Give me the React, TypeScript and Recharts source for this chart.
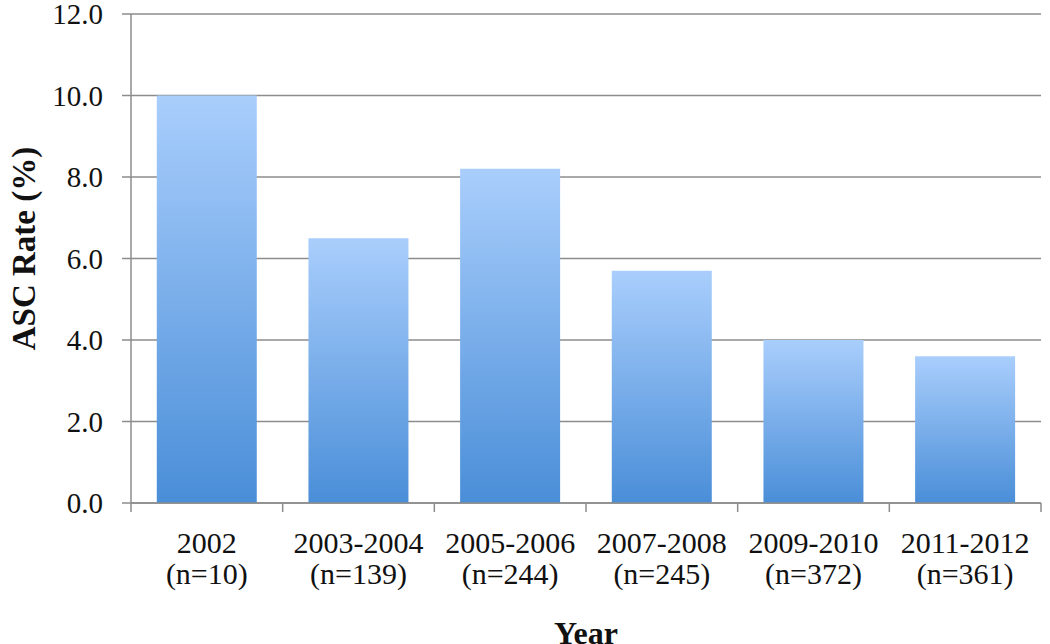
import React from 'react';
import { BarChart, Bar, XAxis, YAxis, CartesianGrid, Label } from 'recharts';

const categories = ['2002', '2003-2004', '2005-2006', '2007-2008', '2009-2010', '2011-2012'];
const sampleSizes = ['(n=10)', '(n=139)', '(n=244)', '(n=245)', '(n=372)', '(n=361)'];
const ascRates = [10.0, 6.5, 8.2, 5.7, 4.0, 3.6];
const yTicks = [0, 2, 4, 6, 8, 10, 12];

const data = categories.map((c, i) => ({ year: c, n: sampleSizes[i], rate: ascRates[i] }));

const FONT = '"Liberation Serif", "Times New Roman", serif';
const AXIS = '#8c8c8c';

const XTick = (props: any) => {
  const { x, y, payload, index } = props;
  const half = payload && payload.offset ? payload.offset : 910 / 12;
  return (
    <g>
      <line x1={x - half} y1={y - 8} x2={x - half} y2={y + 1} stroke={AXIS} strokeWidth={1.5} />
      {index === categories.length - 1 && (
        <line x1={x + half} y1={y - 8} x2={x + half} y2={y + 1} stroke={AXIS} strokeWidth={1.5} />
      )}
      <text x={x} y={y} textAnchor="middle" fontFamily={FONT} fontSize={30} fill="#111">
        <tspan x={x} dy={42}>{categories[index]}</tspan>
        <tspan x={x} dy={31}>{sampleSizes[index]}</tspan>
      </text>
    </g>
  );
};

const YLabel = (props: any) => {
  const vb = props.viewBox || { x: 0, y: 14, width: 131, height: 489 };
  const cx = vb.x + 24;
  const cy = vb.y + vb.height / 2 - 10;
  return (
    <text
      x={cx}
      y={cy}
      transform={`rotate(-90, ${cx}, ${cy})`}
      textAnchor="middle"
      dominantBaseline="central"
      fontFamily={FONT}
      fontSize={33}
      fontWeight="bold"
      fill="#111"
    >
      ASC Rate (%)
    </text>
  );
};

export default function App() {
  return (
    <div style={{ position: 'absolute', left: 0, top: 0, background: '#fff' }}>
      <BarChart
        width={1050}
        height={644}
        data={data}
        margin={{ top: 14, right: 9, bottom: 0, left: 0 }}
        barCategoryGap="17%"
      >
        <defs>
          <linearGradient id="barGrad" x1="0" y1="0" x2="0" y2="1">
            <stop offset="0%" stopColor="#a9cefc" />
            <stop offset="100%" stopColor="#4a8ed8" />
          </linearGradient>
        </defs>
        <CartesianGrid vertical={false} stroke={AXIS} strokeWidth={1.5} />
        <XAxis
          dataKey="year"
          height={141}
          interval={0}
          tick={<XTick />}
          tickLine={false}
          axisLine={{ stroke: AXIS, strokeWidth: 1.5 }}
        >
          <Label
            value="Year"
            position="insideBottom"
            offset={0}
            style={{ fontFamily: FONT, fontSize: 32, fontWeight: 'bold', fill: '#111' }}
          />
        </XAxis>
        <YAxis
          width={131}
          domain={[0, 12]}
          ticks={yTicks}
          interval={0}
          tickFormatter={(v: number) => v.toFixed(1)}
          tickSize={9}
          tickMargin={19}
          tickLine={{ stroke: AXIS, strokeWidth: 1.5 }}
          axisLine={{ stroke: AXIS, strokeWidth: 1.5 }}
          tick={{ fontFamily: FONT, fontSize: 29, fill: '#111' }}
        >
          <Label content={<YLabel />} position="insideLeft" />
        </YAxis>
        <Bar dataKey="rate" fill="url(#barGrad)" isAnimationActive={false} />
      </BarChart>
    </div>
  );
}
